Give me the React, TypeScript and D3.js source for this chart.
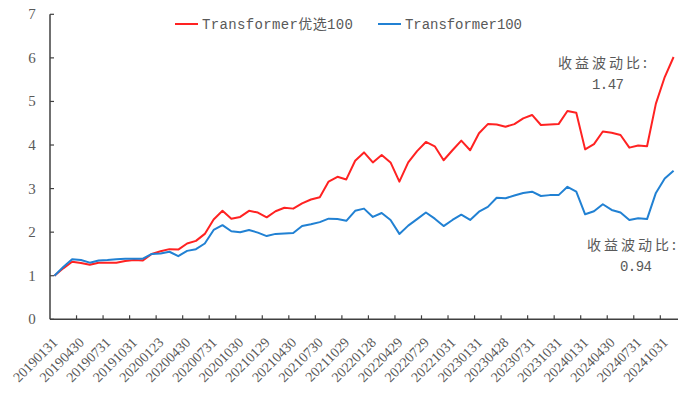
import React, { useEffect, useRef } from 'react';
import * as d3 from 'd3';

const dates = [
  '20190131', '20190228', '20190329', '20190430', '20190531', '20190628', '20190731', '20190830', '20190930', '20191031', '20191129', '20191231',
  '20200123', '20200228', '20200331', '20200430', '20200529', '20200630', '20200731', '20200831', '20200930', '20201030', '20201130', '20201231',
  '20210129', '20210226', '20210331', '20210430', '20210531', '20210630', '20210730', '20210831', '20210930', '20211029', '20211130', '20211231',
  '20220128', '20220228', '20220331', '20220429', '20220531', '20220630', '20220729', '20220831', '20220930', '20221031', '20221130', '20221230',
  '20230131', '20230228', '20230331', '20230428', '20230531', '20230630', '20230731', '20230831', '20230928', '20231031', '20231130', '20231229',
  '20240131', '20240229', '20240329', '20240430', '20240531', '20240628', '20240731', '20240830', '20240930', '20241031', '20241129',
];

const selected100 = [
  1.0, 1.17, 1.32, 1.29, 1.25, 1.3, 1.3, 1.3, 1.34, 1.36, 1.35, 1.5,
  1.56, 1.61, 1.6, 1.74, 1.8, 1.96, 2.29, 2.49, 2.31, 2.35, 2.49, 2.45,
  2.34, 2.48, 2.56, 2.54, 2.66, 2.75, 2.8, 3.16, 3.27, 3.21, 3.64, 3.83,
  3.6, 3.77, 3.6, 3.16, 3.6, 3.86, 4.07, 3.97, 3.65, 3.88, 4.1, 3.88,
  4.27, 4.48, 4.47, 4.42, 4.48, 4.61, 4.69, 4.46, 4.47, 4.48, 4.78, 4.74,
  3.9, 4.02, 4.31, 4.28, 4.23, 3.94, 3.99, 3.97, 4.95, 5.56, 6.02,
];

const base100 = [
  1.0, 1.2, 1.38, 1.36, 1.3, 1.35, 1.36, 1.38, 1.39, 1.39, 1.39, 1.5,
  1.51, 1.55, 1.45, 1.57, 1.61, 1.74, 2.05, 2.16, 2.02, 2.0, 2.05, 1.99,
  1.91, 1.96, 1.97, 1.98, 2.14, 2.18, 2.23, 2.31, 2.3, 2.26, 2.49, 2.54,
  2.35, 2.44, 2.28, 1.96, 2.15, 2.3, 2.45, 2.31, 2.14, 2.28, 2.4, 2.28,
  2.47, 2.58, 2.79, 2.78, 2.84, 2.9, 2.93, 2.83, 2.85, 2.85, 3.04, 2.93,
  2.41, 2.48, 2.64, 2.51, 2.45, 2.28, 2.32, 2.3, 2.9, 3.23, 3.41,
];

const yTicks = [0, 1, 2, 3, 4, 5, 6, 7];
const seriesNames = ['Transformer优选100', 'Transformer100'];
const ratioLabel = '收益波动比:';
const ratios = ['1.47', '0.94'];

const App: React.FC = () => {
  const svgRef = useRef<SVGSVGElement | null>(null);

  useEffect(() => {
    if (!svgRef.current) return;
    const w = 687;
    const h = 396;
    const svg = d3.select(svgRef.current).attr('width', w).attr('height', h);
    svg.selectAll('*').remove();

    const grey = '#595959';
    const axisColor = '#404040';
    const red = '#ff2222';
    const blue = '#2181d3';

    const x = d3.scaleBand<string>().domain(dates).range([50, 678]).padding(0);
    const y = d3.scaleLinear().domain([0, 7]).range([319.3, 14.3]);
    const cx = (d: string) => (x(d) || 0) + x.bandwidth() / 2;

    // y axis
    svg
      .append('line')
      .attr('x1', 50)
      .attr('x2', 50)
      .attr('y1', y(0))
      .attr('y2', y(7))
      .attr('stroke', axisColor)
      .attr('stroke-width', 1.5);
    svg
      .selectAll('.ytick')
      .data(yTicks)
      .enter()
      .append('line')
      .attr('x1', 50)
      .attr('x2', 54)
      .attr('y1', (d) => y(d))
      .attr('y2', (d) => y(d))
      .attr('stroke', axisColor)
      .attr('stroke-width', 1.2);
    svg
      .selectAll('.ylabel')
      .data(yTicks)
      .enter()
      .append('text')
      .attr('x', 32)
      .attr('y', (d) => y(d) + 5)
      .attr('text-anchor', 'middle')
      .attr('font-family', '"Liberation Serif", serif')
      .attr('font-size', 15)
      .attr('fill', grey)
      .text((d) => d);

    // x axis
    svg
      .append('line')
      .attr('x1', 50)
      .attr('x2', 678)
      .attr('y1', y(0))
      .attr('y2', y(0))
      .attr('stroke', axisColor)
      .attr('stroke-width', 1.5);
    const labelled = dates.filter((_, i) => i % 3 === 0);
    svg
      .selectAll('.xtick')
      .data(labelled.slice(1))
      .enter()
      .append('line')
      .attr('x1', (d) => x(d) || 0)
      .attr('x2', (d) => x(d) || 0)
      .attr('y1', y(0))
      .attr('y2', y(0) - 4)
      .attr('stroke', axisColor)
      .attr('stroke-width', 1.2);
    svg
      .selectAll('.xlabel')
      .data(labelled)
      .enter()
      .append('text')
      .attr('transform', (d) => `translate(${cx(d) + 4},${y(0) + 24}) rotate(-45)`)
      .attr('text-anchor', 'end')
      .attr('font-family', '"Liberation Serif", serif')
      .attr('font-size', 14)
      .attr('fill', grey)
      .text((d) => d);

    // lines
    const line = d3
      .line<number>()
      .x((_, i) => cx(dates[i]))
      .y((d) => y(d));
    [
      { data: selected100, color: red },
      { data: base100, color: blue },
    ].forEach((s) => {
      svg
        .append('path')
        .datum(s.data)
        .attr('d', line)
        .attr('fill', 'none')
        .attr('stroke', s.color)
        .attr('stroke-width', 2)
        .attr('stroke-linejoin', 'round');
    });

    // legend
    const legend = [
      { name: seriesNames[0], color: red, x0: 175, len: 151 },
      { name: seriesNames[1], color: blue, x0: 378, len: 117 },
    ];
    legend.forEach((l) => {
      svg
        .append('line')
        .attr('x1', l.x0)
        .attr('x2', l.x0 + 23)
        .attr('y1', 24)
        .attr('y2', 24)
        .attr('stroke', l.color)
        .attr('stroke-width', 2);
      svg
        .append('text')
        .attr('x', l.x0 + 27)
        .attr('y', 29)
        .attr('font-family', '"Liberation Mono", "Noto Sans CJK SC", monospace')
        .attr('font-size', 14)
        .attr('fill', grey)
        .attr('textLength', l.len)
        .attr('lengthAdjust', 'spacing')
        .text(l.name);
    });

    // annotations
    const notes = [
      { ratio: ratios[0], x0: 558, y0: 68, rx: 592, ry: 89 },
      { ratio: ratios[1], x0: 587, y0: 250, rx: 620, ry: 271 },
    ];
    notes.forEach((n) => {
      svg
        .append('text')
        .attr('x', n.x0)
        .attr('y', n.y0)
        .attr('font-family', '"Noto Sans CJK SC", sans-serif')
        .attr('font-size', 14)
        .attr('fill', grey)
        .attr('textLength', 89)
        .attr('lengthAdjust', 'spacing')
        .text(ratioLabel);
      svg
        .append('text')
        .attr('x', n.rx)
        .attr('y', n.ry)
        .attr('font-family', '"Liberation Mono", monospace')
        .attr('font-size', 14)
        .attr('fill', grey)
        .attr('textLength', 32)
        .attr('lengthAdjust', 'spacing')
        .text(n.ratio);
    });
  }, []);

  return (
    <div style={{ position: 'absolute', left: 0, top: 0, width: 687, height: 396, background: '#fff' }}>
      <svg ref={svgRef}></svg>
    </div>
  );
};

export default App;
